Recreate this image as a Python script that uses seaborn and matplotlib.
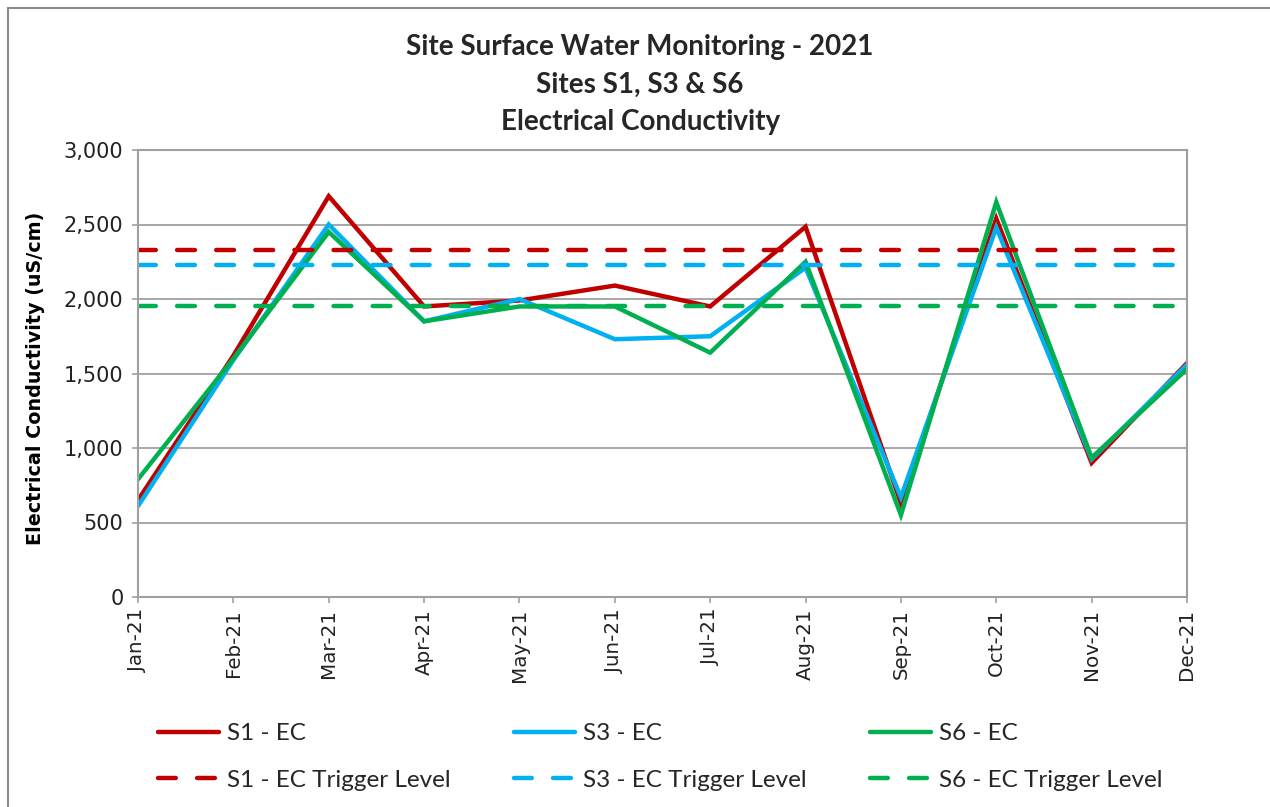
import matplotlib
matplotlib.use("Agg")
import matplotlib.pyplot as plt
from matplotlib.patches import Rectangle
from matplotlib.ticker import FuncFormatter, MultipleLocator
import numpy as np
import pandas as pd
import seaborn as sns

months = ["Jan-21", "Feb-21", "Mar-21", "Apr-21", "May-21", "Jun-21",
          "Jul-21", "Aug-21", "Sep-21", "Oct-21", "Nov-21", "Dec-21"]
s1_ec = [650, 1620, 2690, 1950, 1990, 2090, 1950, 2485, 630, 2540, 900, 1570]
s3_ec = [610, 1590, 2500, 1850, 2000, 1730, 1750, 2210, 670, 2480, 925, 1560]
s6_ec = [790, 1600, 2450, 1850, 1950, 1950, 1640, 2250, 550, 2650, 935, 1530]
s1_trigger = 2330
s3_trigger = 2230
s6_trigger = 1950

RED, BLUE, GREEN = "#C00000", "#00B0F0", "#00B050"
GRID = "#A0A0A0"

sns.set_theme(style="white")
plt.rcParams["font.family"] = ["Lato", "DejaVu Sans"]

fig = plt.figure(figsize=(12.7, 8.07), dpi=100)
ax = fig.add_axes([138 / 1270, 1 - 597 / 807, (1187 - 138) / 1270, (597 - 150) / 807])

x = np.arange(len(months))
df = pd.DataFrame({"month": x, "S1 - EC": s1_ec, "S3 - EC": s3_ec, "S6 - EC": s6_ec})

lw = 3.2
for col, colour in [("S1 - EC", RED), ("S3 - EC", BLUE), ("S6 - EC", GREEN)]:
    sns.lineplot(data=df, x="month", y=col, ax=ax, color=colour, lw=lw,
                 label=col, solid_joinstyle="miter")

dash = (0, (4.0, 4.8))
for lvl, colour, name in [(s1_trigger, RED, "S1 - EC Trigger Level"),
                          (s3_trigger, BLUE, "S3 - EC Trigger Level"),
                          (s6_trigger, GREEN, "S6 - EC Trigger Level")]:
    trig = pd.DataFrame({"month": x, "level": [lvl] * len(months)})
    sns.lineplot(data=trig, x="month", y="level", ax=ax, color=colour, lw=lw,
                 linestyle=dash, dash_capstyle="round", label=name)

ax.set_xlim(0, len(months) - 1)
ax.set_ylim(0, 3000)
ax.yaxis.set_major_locator(MultipleLocator(500))
ax.yaxis.set_major_formatter(FuncFormatter(lambda v, p: f"{int(v):,}"))
ax.set_xticks(x)
ax.set_xticklabels(months, rotation=90, fontsize=14.3, family="DejaVu Sans", color="#222222")
for lab in ax.get_yticklabels():
    lab.set_family("DejaVu Sans")
ax.tick_params(axis="y", labelsize=15, labelcolor="#222222", pad=6)
ax.tick_params(axis="x", pad=4)
ax.tick_params(axis="both", direction="out", length=4.5, width=1.2, color=GRID,
               left=True, bottom=True)
ax.grid(axis="y", color=GRID, lw=1.3)
ax.set_axisbelow(True)
for sp in ax.spines.values():
    sp.set_color(GRID)
    sp.set_linewidth(1.5)

ax.set_xlabel("")
ax.set_ylabel("Electrical Conductivity (uS/cm)", fontsize=13.8, fontweight="bold",
              family="DejaVu Sans", color="black")
ax.yaxis.set_label_coords((45 - 138) / 1049, (597 - 378) / 447)

title_lines = ["Site Surface Water Monitoring - 2021", "Sites S1, S3 & S6",
               "Electrical Conductivity"]
for line, ypix in zip(title_lines, [47, 85, 122]):
    fig.text(0.504, 1 - ypix / 807, line, ha="center", va="center",
             fontsize=20, fontweight="bold")

handles, labels = ax.get_legend_handles_labels()
if ax.get_legend():
    ax.get_legend().remove()

# three legend columns, each holding the series line and its trigger level
for col_idx, xpix in enumerate([158, 514, 870]):
    pair = [col_idx, col_idx + 3]
    fig.legend([handles[i] for i in pair], [labels[i] for i in pair],
               loc="center left", bbox_to_anchor=(xpix / 1270, 1 - 757 / 807),
               ncol=1, frameon=False, fontsize=17.5, handlelength=2.5,
               handletextpad=0.35, labelspacing=1.05, borderpad=0, borderaxespad=0)

fig.patches.append(Rectangle((8 / 1270, -0.1), 1.2, 1 - 8 / 807 + 0.1, transform=fig.transFigure,
                             fill=False, edgecolor="#8C8C8C", lw=1.5))

fig.savefig("out.png", dpi=100, facecolor="white")
